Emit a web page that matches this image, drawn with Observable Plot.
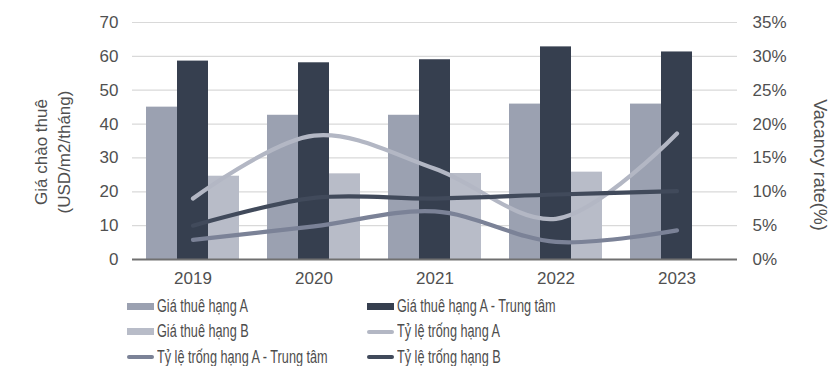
<!DOCTYPE html>
<html>
<head>
<meta charset="utf-8">
<script src="https://cdn.jsdelivr.net/npm/d3@7"></script>
<script src="https://cdn.jsdelivr.net/npm/@observablehq/plot@0.6"></script>
<style>
  html, body { margin: 0; padding: 0; background: #fff; }
  #chart { width: 833px; }
  .legend { position: relative; height: 74px; font-family: "Liberation Sans", Arial, sans-serif; font-size: 17.5px; color: #4d4d4d; }
  .item { position: absolute; display: flex; align-items: center; height: 24px; white-space: nowrap; }
  .sw { width: 27px; margin-right: 3px; flex: none; }
  .lbl { display: inline-block; transform: scaleX(0.725); transform-origin: left center; }
</style>
</head>
<body>
<div id="chart"></div>
<script>
const years = ["2019", "2020", "2021", "2022", "2023"];
// Rents (USD/m2/month), left axis
const rentA = [45.0, 42.6, 42.6, 45.9, 45.9];
const rentACentral = [58.6, 58.1, 59.0, 62.8, 61.3];
const rentB = [24.6, 25.3, 25.4, 25.8, null];
// Vacancy rates (%), right axis
const vacA = [9.0, 18.3, 13.4, 6.0, 18.6];
const vacACentral = [2.9, 4.9, 7.1, 2.6, 4.3];
const vacB = [5.0, 9.1, 9.0, 9.6, 10.1];
const leftTicks = [0, 10, 20, 30, 40, 50, 60, 70];
const rightTicks = [0, 5, 10, 15, 20, 25, 30, 35];

const seriesNames = {
  rentA: "Giá thuê hạng A",
  rentACentral: "Giá thuê hạng A - Trung tâm",
  rentB: "Giá thuê hạng B",
  vacA: "Tỷ lệ trống hạng A",
  vacACentral: "Tỷ lệ trống hạng A - Trung tâm",
  vacB: "Tỷ lệ trống hạng B"
};
const colors = {
  rentA: "#9ba1b1",
  rentACentral: "#363f4f",
  rentB: "#b8bcc8",
  vacA: "#b3b7c4",
  vacACentral: "#7b8297",
  vacB: "#414a5b"
};

const rows = years.map((y, i) => ({
  year: y, rentA: rentA[i], rentACentral: rentACentral[i], rentB: rentB[i],
  vacA: vacA[i], vacACentral: vacACentral[i], vacB: vacB[i]
}));
// map percent onto the shared y scale (35% <-> 70)
const ratio = 70 / 35;

const textColor = "#505050";
const font = "Liberation Sans, Arial, sans-serif";

const chart = Plot.plot({
  width: 833,
  height: 292,
  marginLeft: 132,
  marginRight: 96,
  marginTop: 22,
  marginBottom: 33,
  style: {fontFamily: font, fontSize: "17px", color: textColor, background: "#fff"},
  x: {domain: years, paddingInner: 0.7438, paddingOuter: 0.3719},
  y: {domain: [0, 70]},
  marks: [
    Plot.gridY(leftTicks, {stroke: "#d9d9d9", strokeOpacity: 1, strokeWidth: 1.2}),
    Plot.barY(rows, {x: "year", y: "rentA", fill: colors.rentA, dx: -31, inset: 0}),
    Plot.barY(rows, {x: "year", y: "rentACentral", fill: colors.rentACentral, inset: 0}),
    Plot.barY(rows.filter(d => d.rentB != null), {x: "year", y: "rentB", fill: colors.rentB, dx: 31, inset: 0}),
    Plot.ruleY([0], {stroke: "#707070", strokeWidth: 2}),
    Plot.line(rows, {x: "year", y: d => d.vacA * ratio, stroke: colors.vacA, strokeWidth: 4.2, curve: "catmull-rom", strokeLinecap: "round"}),
    Plot.line(rows, {x: "year", y: d => d.vacACentral * ratio, stroke: colors.vacACentral, strokeWidth: 4.2, curve: "catmull-rom", strokeLinecap: "round"}),
    Plot.line(rows, {x: "year", y: d => d.vacB * ratio, stroke: colors.vacB, strokeWidth: 4.2, curve: "catmull-rom", strokeLinecap: "round"}),
    Plot.axisY(leftTicks, {anchor: "left", tickSize: 0, tickPadding: 14, label: null, fontSize: 17, fill: textColor}),
    Plot.axisY(rightTicks.map(d => d * ratio), {anchor: "right", tickSize: 0, tickPadding: 15, label: null, fontSize: 17, fill: textColor, tickFormat: d => (d / ratio) + "%"}),
    Plot.axisX({tickSize: 0, tickPadding: 12, label: null, fontSize: 17, fill: textColor}),
    Plot.text(["Giá chào thuê\n(USD/m2/tháng)"], {frameAnchor: "left", rotate: -90, dx: -81, dy: 11, fontSize: 17, fill: textColor, lineHeight: 1.35, textAnchor: "middle"}),
    Plot.text(["Vacancy rate(%)"], {frameAnchor: "right", rotate: 90, dx: 82, dy: 24, fontSize: 18, fill: textColor, textAnchor: "middle"})
  ]
});
document.getElementById("chart").appendChild(chart);

// legend
const legendItems = [
  {key: "rentA", type: "bar", col: 0, row: 0},
  {key: "rentACentral", type: "bar", col: 1, row: 0},
  {key: "rentB", type: "bar", col: 0, row: 1},
  {key: "vacA", type: "line", col: 1, row: 1},
  {key: "vacACentral", type: "line", col: 0, row: 2},
  {key: "vacB", type: "line", col: 1, row: 2}
];
const legend = document.createElement("div");
legend.className = "legend";
const colX = [127, 367];
for (const it of legendItems) {
  const el = document.createElement("div");
  el.className = "item";
  el.style.left = colX[it.col] + "px";
  el.style.top = (2 + it.row * 25.5) + "px";
  const sw = document.createElement("span");
  sw.className = "sw";
  sw.style.height = it.type === "bar" ? "7px" : "4px";
  sw.style.background = colors[it.key];
  if (it.type === "line") sw.style.borderRadius = "2px";
  const tx = document.createElement("span");
  tx.className = "lbl";
  tx.textContent = seriesNames[it.key];
  el.appendChild(sw);
  el.appendChild(tx);
  legend.appendChild(el);
}
document.getElementById("chart").appendChild(legend);
</script>
</body>
</html>
